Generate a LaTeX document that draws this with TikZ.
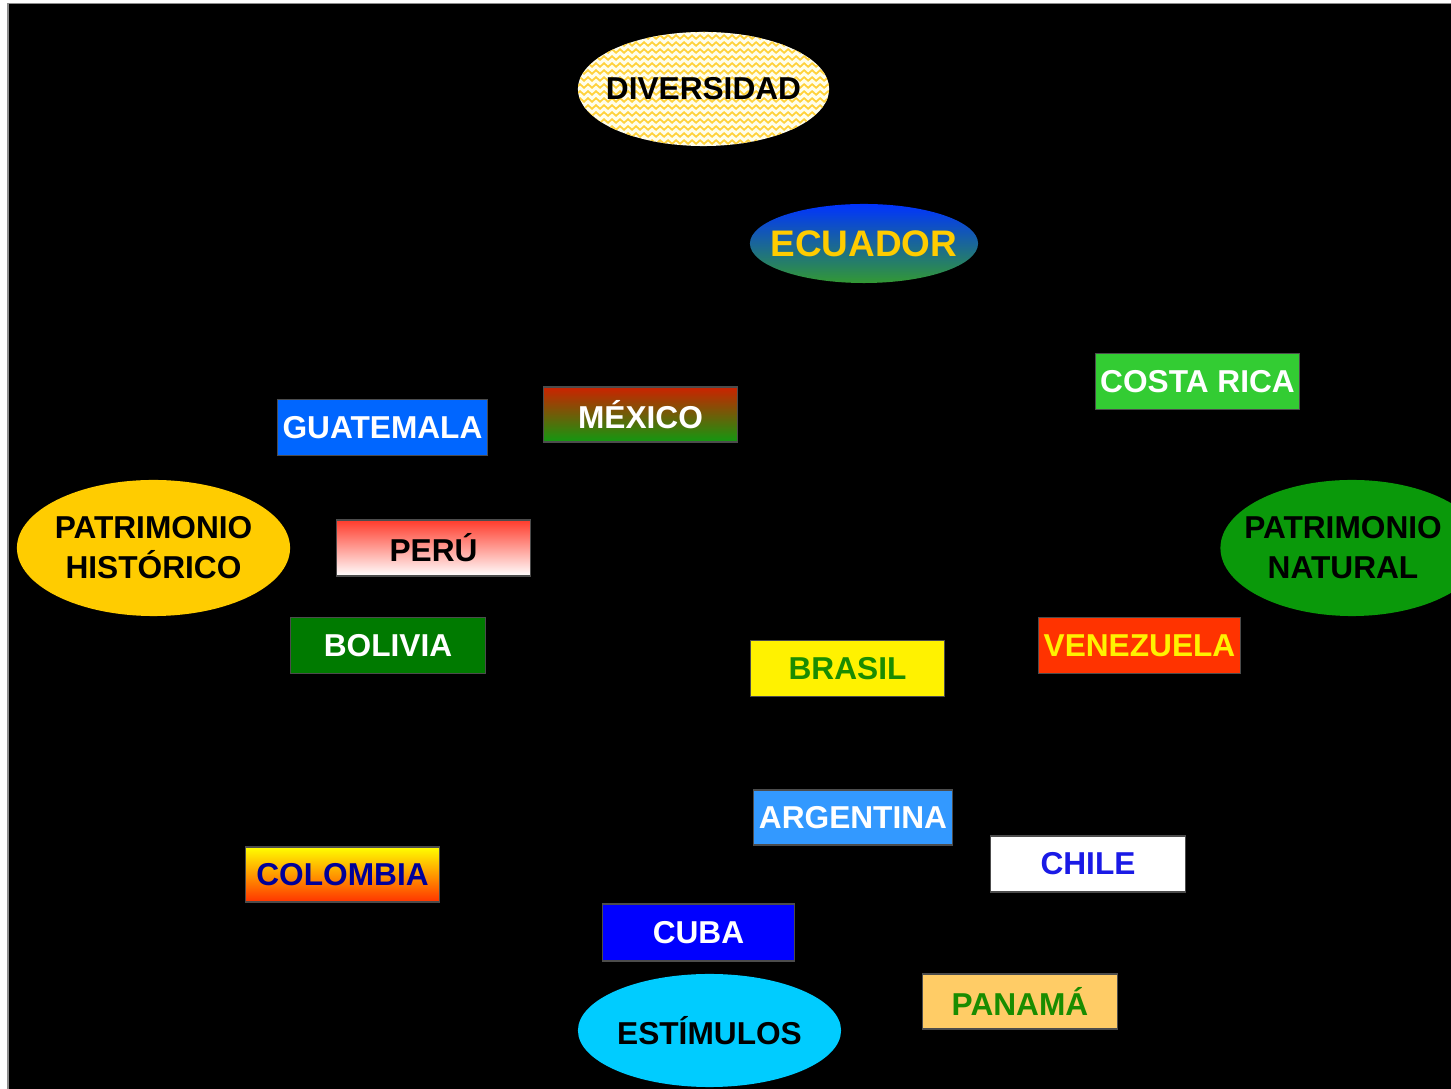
\documentclass[tikz,border=0pt]{standalone}
\usepackage{fontspec}
\setmainfont{Liberation Sans}
\usepackage{tikz}
\usetikzlibrary{decorations.pathmorphing}

\definecolor{gold}{HTML}{FFCC00}
\definecolor{zzyellow}{HTML}{FFD23C}
\definecolor{costagreen}{HTML}{33CC33}
\definecolor{guatblue}{HTML}{0066FF}
\definecolor{bolgreen}{HTML}{007A00}
\definecolor{textgreen}{HTML}{1A8C00}
\definecolor{venred}{HTML}{FF3300}
\definecolor{argblue}{HTML}{3399FF}
\definecolor{chileblue}{HTML}{1A1AE6}
\definecolor{colblue}{HTML}{000099}
\definecolor{panorange}{HTML}{FFCC66}
\definecolor{estcyan}{HTML}{00CCFF}
\definecolor{natgreen}{HTML}{0A990A}
\definecolor{ecublue}{HTML}{0033FF}
\definecolor{ecugreen}{HTML}{339933}
\definecolor{mexred}{HTML}{CC2200}
\definecolor{mexgreen}{HTML}{119911}
\definecolor{perured}{HTML}{FF3B2B}

\tikzset{
  country/.style={rectangle,draw=black!70,line width=0.3pt,inner xsep=0.05cm,
    minimum width=1.93cm,minimum height=0.56cm,
    font=\fontsize{9}{11}\selectfont\bfseries},
  idea/.style={inner sep=0pt,align=center,
    font=\fontsize{9}{11.4}\selectfont\bfseries},
  zz/.style={zzyellow,line width=0.5pt,
    decorate,decoration={zigzag,segment length=0.08cm,amplitude=0.018cm}}
}

\begin{document}
\begin{tikzpicture}[x=0.01cm,y=-0.01cm]
  \clip (0,0) rectangle (1451,1089);
  \fill[white] (0,0) rectangle (1451,1089);
  \fill[black!45] (7,3) rectangle (1451,1089);
  \fill[black] (9,4) rectangle (1451,1089);

  \fill[yellow!8!white] (703.5,89) ellipse [x radius=1.255cm,y radius=0.57cm];
  \begin{scope}
    \clip (703.5,89) ellipse [x radius=1.255cm,y radius=0.57cm];
    \foreach \k in {0,...,17}
      \draw[zz] (570,{30+\k*7}) -- (840,{30+\k*7});
  \end{scope}
  \node[idea] (div) at (703.5,89) {DIVERSIDAD};

  \shade[top color=ecublue,bottom color=ecugreen] (864,243.5) ellipse [x radius=1.14cm,y radius=0.395cm];
  \node[idea,text=gold,font=\fontsize{10.5}{12}\selectfont\bfseries] (ecu) at (864,243.5) {ECUADOR};

  \fill[gold] (153.5,548) ellipse [x radius=1.365cm,y radius=0.68cm];
  \node[idea] (hist) at (153.5,548) {PATRIMONIO\\HISTÓRICO};
  \fill[natgreen] (1352,548) ellipse [x radius=1.315cm,y radius=0.68cm];
  \node[idea] (nat) at (1343,548) {PATRIMONIO\\NATURAL};
  \fill[estcyan] (709.5,1030.5) ellipse [x radius=1.315cm,y radius=0.565cm];
  \node[idea] (est) at (709.5,1030.5) {ESTÍMULOS};

  \node[country,fill=costagreen,text=white] (costa) at (1197.5,381.5) {COSTA RICA};
  \node[country,fill=guatblue,text=white] (guat) at (382.5,427.5) {GUATEMALA};
  \node[country,top color=mexred,bottom color=mexgreen,text=white,minimum height=0.55cm] (mex) at (640.5,414.5) {MÉXICO};
  \node[country,top color=perured,bottom color=white,text=black] (peru) at (433.5,548) {PERÚ};
  \node[country,fill=bolgreen,text=white,minimum width=1.94cm] (bol) at (388,645.5) {BOLIVIA};
  \node[country,fill=yellow,text=textgreen] (bra) at (847.5,668.5) {BRASIL};
  \node[country,fill=venred,text=yellow] (ven) at (1139.5,645.5) {VENEZUELA};
  \node[country,fill=argblue,text=white,minimum height=0.55cm] (arg) at (853,817.5) {ARGENTINA};
  \node[country,fill=white,text=chileblue,minimum width=1.94cm] (chi) at (1088,864) {CHILE};
  \node[country,top color=yellow,bottom color=venred,text=colblue,minimum height=0.55cm] (col) at (342.5,874.5) {COLOMBIA};
  \node[country,fill=blue,text=white,minimum width=1.91cm,minimum height=0.57cm] (cuba) at (698.5,932.5) {CUBA};
  \node[country,fill=panorange,text=textgreen,minimum width=1.94cm,minimum height=0.55cm] (pan) at (1020,1001.5) {PANAMÁ};
\end{tikzpicture}
\end{document}
